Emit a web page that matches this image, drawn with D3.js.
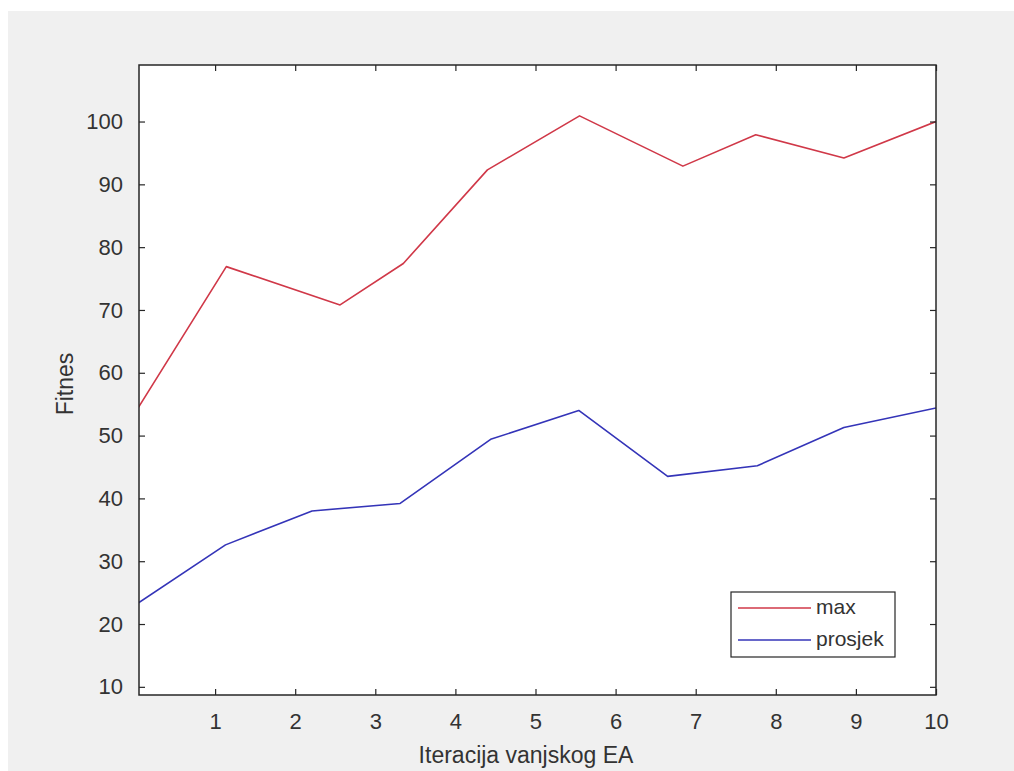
<!DOCTYPE html>
<meta charset="utf-8">
<style>
body { margin: 0; background: #fff; }
text { font-family: "Liberation Sans", Arial, sans-serif; fill: #333; }
</style>
<svg width="1014" height="771"></svg>
<script src="https://d3js.org/d3.v7.min.js"></script>
<script>

// x positions (the two lines do not share every x)
var maxX  = [0, 1.14, 2.56, 3.35, 4.4, 5.55, 6.84, 7.75, 8.85, 10];
var maxY  = [53.6, 76.9, 70.8, 77.4, 92.3, 100.9, 92.9, 97.9, 94.2, 100];
var avgX  = [0, 1.13, 2.21, 3.31, 4.44, 5.54, 6.65, 7.77, 8.85, 10];
var avgY  = [23.0, 32.6, 38.0, 39.2, 49.4, 54.0, 43.5, 45.2, 51.3, 54.4];
var xTicks = [1, 2, 3, 4, 5, 6, 7, 8, 9, 10];
var yTicks = [10, 20, 30, 40, 50, 60, 70, 80, 90, 100];
var seriesNames = ["max", "prosjek"];
var seriesColors = ["#d03848", "#3434b8"];

var svg = d3.select("svg");

svg.append("rect")
   .attr("x", 8).attr("y", 11)
   .attr("width", 1006).attr("height", 760)
   .attr("fill", "#f0f0f0");

var axLeft = 139, axRight = 936, axTop = 65, axBottom = 695;

var x = d3.scaleLinear().domain([0.05, 10]).range([axLeft, axRight]);
var y = d3.scaleLinear().domain([8.7, 109]).range([axBottom, axTop]);

svg.append("rect")
   .attr("x", axLeft).attr("y", axTop)
   .attr("width", axRight - axLeft).attr("height", axBottom - axTop)
   .attr("fill", "#fff");

svg.append("clipPath").attr("id", "clip")
   .append("rect")
   .attr("x", axLeft).attr("y", axTop)
   .attr("width", axRight - axLeft).attr("height", axBottom - axTop);

var line = d3.line()
             .x(function(d) { return x(d[0]); })
             .y(function(d) { return y(d[1]); });

var series = [d3.zip(maxX, maxY), d3.zip(avgX, avgY)];

svg.append("g")
   .attr("clip-path", "url(#clip)")
   .selectAll("path")
   .data(series)
   .enter()
   .append("path")
   .attr("d", line)
   .attr("fill", "none")
   .attr("stroke", function(d, i) { return seriesColors[i]; })
   .attr("stroke-width", 1.6)
   .attr("stroke-linejoin", "round");

// axes, MATLAB style: ticks inward, box on
function styleAxis(g) {
  g.select(".domain").remove();
  g.selectAll(".tick line").attr("stroke", "#262626").attr("stroke-width", 1.2);
  g.selectAll(".tick text")
   .attr("font-size", "22px")
   .attr("font-family", "Liberation Sans, Arial, sans-serif")
   .attr("fill", "#333");
}

svg.append("g")
   .attr("transform", "translate(0," + axBottom + ")")
   .call(d3.axisBottom(x).tickValues(xTicks).tickSize(-6).tickPadding(18))
   .call(styleAxis);

svg.append("g")
   .attr("transform", "translate(0," + axTop + ")")
   .call(d3.axisTop(x).tickValues(xTicks).tickSize(-6).tickFormat(""))
   .call(styleAxis);

svg.append("g")
   .attr("transform", "translate(" + axLeft + ",0)")
   .call(d3.axisLeft(y).tickValues(yTicks).tickSize(-6).tickPadding(16))
   .call(styleAxis);

svg.append("g")
   .attr("transform", "translate(" + axRight + ",0)")
   .call(d3.axisRight(y).tickValues(yTicks).tickSize(-6).tickFormat(""))
   .call(styleAxis);

svg.append("rect")
   .attr("x", axLeft).attr("y", axTop)
   .attr("width", axRight - axLeft).attr("height", axBottom - axTop)
   .attr("fill", "none")
   .attr("stroke", "#262626")
   .attr("stroke-width", 1.5);

// axis labels
svg.append("text")
   .attr("x", 526).attr("y", 763)
   .attr("text-anchor", "middle")
   .attr("font-size", "23px")
   .text("Iteracija vanjskog EA");

svg.append("text")
   .attr("transform", "translate(73,384) rotate(-90)")
   .attr("text-anchor", "middle")
   .attr("font-size", "23px")
   .text("Fitnes");

// legend
var legend = svg.append("g");
legend.append("rect")
      .attr("x", 731).attr("y", 592)
      .attr("width", 164).attr("height", 65)
      .attr("fill", "#fff")
      .attr("stroke", "#262626")
      .attr("stroke-width", 1.2);

var items = legend.selectAll("g.item")
                  .data(seriesNames)
                  .enter()
                  .append("g")
                  .attr("class", "item")
                  .attr("transform", function(d, i) { return "translate(0," + (608 + i * 32) + ")"; });

items.append("line")
     .attr("x1", 738).attr("x2", 811)
     .attr("stroke", function(d, i) { return seriesColors[i]; })
     .attr("stroke-width", 1.6);

items.append("text")
     .attr("x", 816).attr("y", 6)
     .attr("font-size", "21px")
     .text(function(d) { return d; });

</script>
